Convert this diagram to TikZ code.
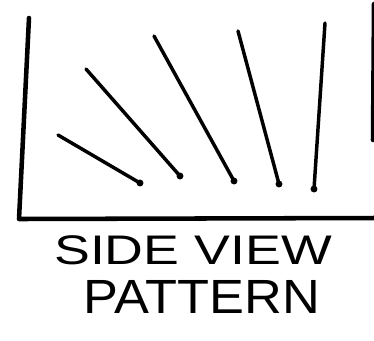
\documentclass[tikz,border=0pt]{standalone}
\usepackage{fontspec}
\setmainfont{Liberation Sans}

\begin{document}
\begin{tikzpicture}[
    x=0.75pt, y=-0.75pt,
    frame/.style={line width=3.4pt, line cap=round, line join=round},
    ray/.style={line width=2.6pt, line cap=round},
    label/.style={font=\fontsize{31}{31}\selectfont, inner sep=0pt, anchor=center}
]
\useasboundingbox (0,0) rectangle (374,340);

% Cadre
\coordinate (tl) at (29,18);
\coordinate (bl) at (19,219);
\coordinate (br) at (376,218);
\draw[frame] (tl) -- (bl) -- (br);
\draw[frame] (374,4) -- (373,140);

% Rayons
\coordinate (s1) at (58,135);  \coordinate (e1) at (140,183);
\coordinate (s2) at (86,69);   \coordinate (e2) at (180,176);
\coordinate (s3) at (154,36);  \coordinate (e3) at (234,181);
\coordinate (s4) at (238,31);  \coordinate (e4) at (279,184);
\coordinate (s5) at (325,23);  \coordinate (e5) at (314,189);
\foreach \i in {1,...,5}{
  \draw[ray] (s\i) -- (e\i);
  \fill (e\i) circle (2.6pt);
}

% Texte
\node[label, xscale=1.3] (t1) at (193,250) {SIDE VIEW};
\node[label, font=\fontsize{36}{36}\selectfont, xscale=1.09] (t2) at (202,297) {PATTERN};

\end{tikzpicture}
\end{document}
